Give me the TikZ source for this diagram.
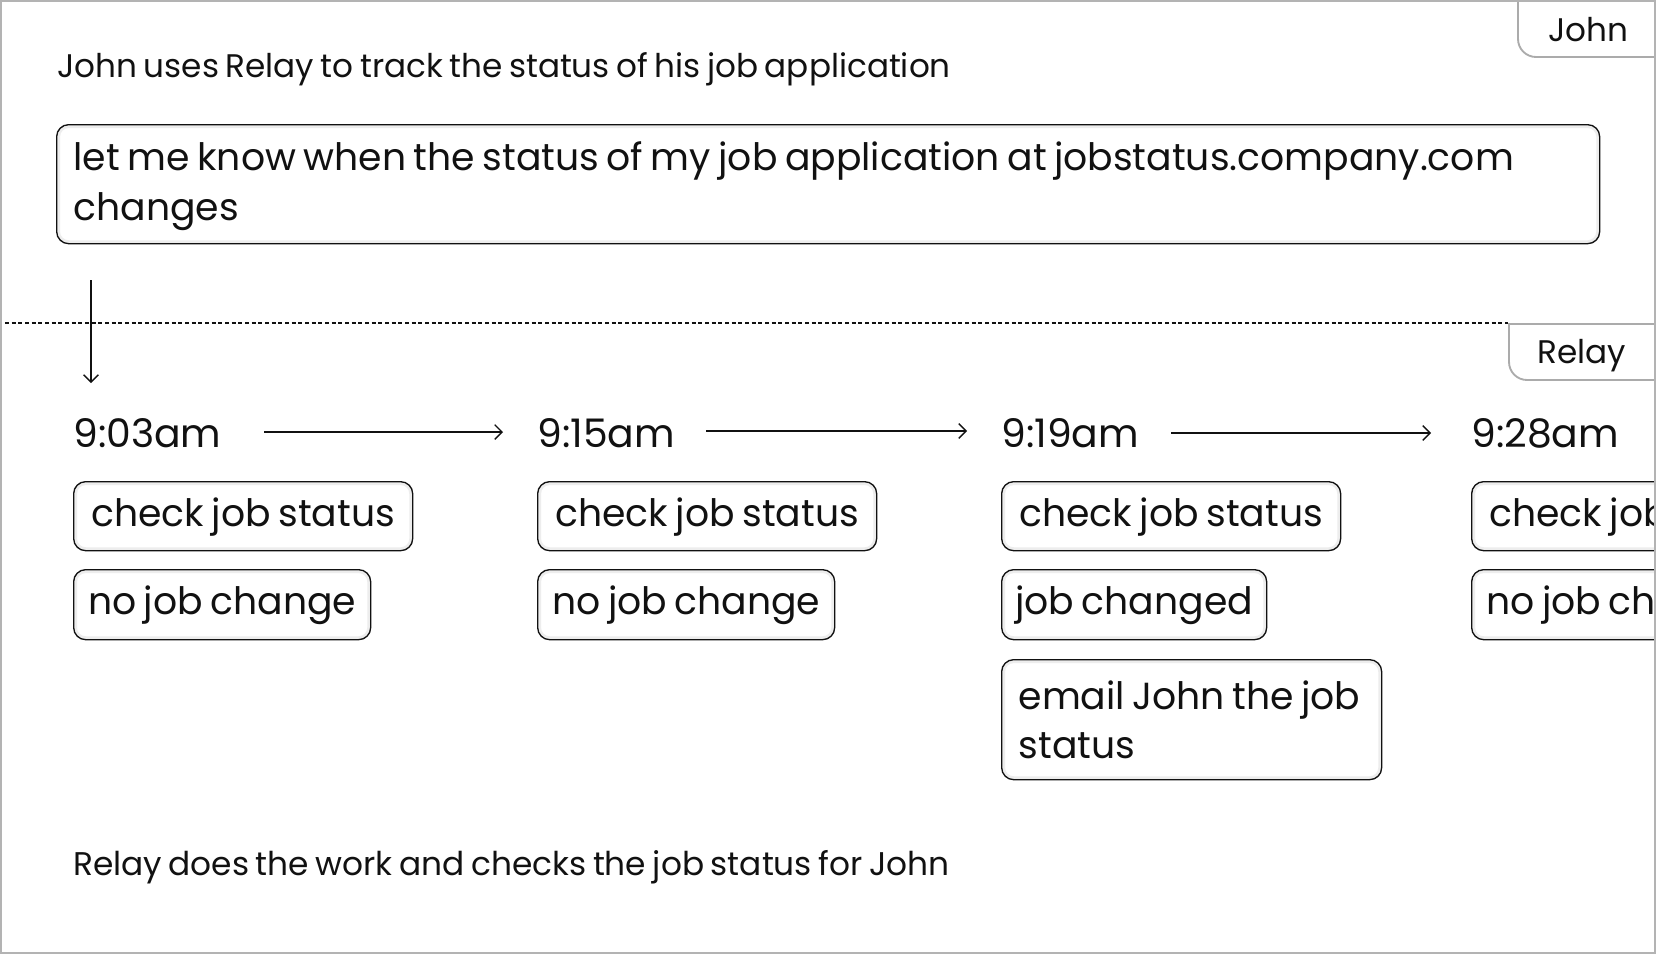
\documentclass[tikz,border=0pt]{standalone}
\usepackage{fontspec}
\setmainfont{Poppins}[WordSpace=0.75]
\usetikzlibrary{arrows.meta}
\definecolor{ink}{HTML}{111111}
\definecolor{framegray}{HTML}{B3B3B3}
\definecolor{tabgray}{HTML}{ABABAB}
\newcommand\fttl{\fontsize{24.5pt}{30pt}\selectfont}
\newcommand\ffoot{\fontsize{24.6pt}{30pt}\selectfont}
\newcommand\ftab{\fontsize{24.5pt}{30pt}\selectfont}
\newcommand\freq{\fontsize{28.3pt}{37.5pt}\selectfont}
\newcommand\fbx{\fontsize{28.3pt}{36.75pt}\selectfont}
\newcommand\ftime{\fontsize{29.5pt}{36pt}\selectfont}
\newcommand\natsp{\spaceskip=0pt\xspaceskip=0pt\relax}
\begin{document}
\begin{tikzpicture}[x=0.75pt,y=-0.75pt,
  lbl/.style={inner sep=0pt, anchor=base west, text=ink},
  stepbox/.style={draw=ink, line width=1pt, rounded corners=9pt, fill=white,
    anchor=north west, inner sep=0pt, text=ink, font=\fbx,
    path picture={\draw[black!7, line width=5pt, rounded corners=9pt]
      (path picture bounding box.south west) rectangle (path picture bounding box.north east);}},
  oneline/.style={text height=21pt, text depth=6pt},
  tabline/.style={draw=tabgray, line width=1.4pt},
  arr/.style={draw=ink, line width=1pt, -{Straight Barb[length=5.5pt,width=11pt]}},
  sep/.style={draw=ink, line width=1.1pt, dash pattern=on 3pt off 2pt}]
\useasboundingbox (0,0) rectangle (1656,954);
\begin{scope}
\clip (0,0) rectangle (1656,954);
% title
\node[lbl, font=\fttl] (title) at (57,77) {John uses Relay to track the status of his job application};
% request box
\node[stepbox, font=\freq, minimum width=1157.25pt, minimum height=89.25pt,
  inner xsep=12.75pt, text width=1131.75pt, align=left] (req) at (56,124)
  {\natsp\rule{0pt}{25pt}\mbox{let me know when the status of my job application at jobstatus.company.com}\\changes};
% tabs
\draw[tabline, rounded corners=13.5pt] (1518,-5) -- (1518,57) -- (1662,57);
\node[inner sep=0pt, text=ink, font=\ftab] (johntab) at (1588,30) {John};
\draw[tabline] (1662,324) -- (1509,324) -- (1509,340);
\draw[tabline, rounded corners=13.5pt] (1509,330) -- (1509,380) -- (1662,380);
\node[inner sep=0pt, text=ink, font=\ftab] (relaytab) at (1582,356) {Relay};
% separator
\coordinate (sepA) at (5,323);
\coordinate (sepB) at (1508,323);
\draw[sep] (sepA) -- (sepB);
% down arrow
\coordinate (downA) at (91,280);
\coordinate (downB) at (91,383);
\draw[arr] (downA) -- (downB);
% times
\node[lbl, font=\ftime] (t1) at (73,447) {9:03am};
\node[lbl, font=\ftime] (t2) at (537,447) {9:15am};
\node[lbl, font=\ftime] (t3) at (1001,447) {9:19am};
\node[lbl, font=\ftime] (t4) at (1471,447) {9:28am};
\coordinate (a1s) at (264,432); \coordinate (a1e) at (503,432);
\coordinate (a2s) at (706,431); \coordinate (a2e) at (967,431);
\coordinate (a3s) at (1171,433); \coordinate (a3e) at (1431,433);
\draw[arr] (a1s) -- (a1e);
\draw[arr] (a2s) -- (a2e);
\draw[arr] (a3s) -- (a3e);
% column 1
\node[stepbox, oneline, minimum width=254.25pt, minimum height=51.75pt] (c1a) at (73,481) {check job status};
\node[stepbox, oneline, minimum width=222.75pt, minimum height=52.5pt] (c1b) at (73,569) {no job change};
% column 2
\node[stepbox, oneline, minimum width=254.25pt, minimum height=51.75pt] (c2a) at (537,481) {check job status};
\node[stepbox, oneline, minimum width=222.75pt, minimum height=52.5pt] (c2b) at (537,569) {no job change};
% column 3
\node[stepbox, oneline, minimum width=254.25pt, minimum height=51.75pt] (c3a) at (1001,481) {check job status};
\node[stepbox, oneline, minimum width=198.75pt, minimum height=52.5pt] (c3b) at (1001,569) {job changed};
\node[stepbox, minimum width=285pt, minimum height=90pt, inner xsep=12.75pt,
  text width=259.5pt, align=left] (c3c) at (1001,659) {\natsp\mbox{email John the job}\\status};
% column 4
\node[stepbox, oneline, minimum width=254.25pt, minimum height=51.75pt] (c4a) at (1471,481) {check job status};
\node[stepbox, oneline, minimum width=222.75pt, minimum height=52.5pt] (c4b) at (1471,569) {no job change};
% footer
\node[lbl, font=\ffoot] (foot) at (73,875) {Relay does the work and checks the job status for John};
\end{scope}
\draw[framegray, line width=2pt] (1,1) rectangle (1655,953);
\end{tikzpicture}
\end{document}
